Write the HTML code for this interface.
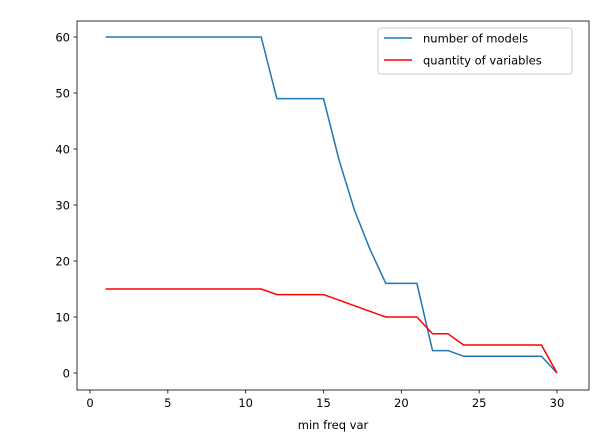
<!DOCTYPE html>
<html><head><meta charset="utf-8"><style>
body{margin:0;background:#fff;font-family:"DejaVu Sans","Liberation Sans",sans-serif}
</style></head><body>
<svg width="612" height="443" xmlns="http://www.w3.org/2000/svg" font-family="DejaVu Sans, Liberation Sans, sans-serif">
<g id="root"></g>
</svg>
<script>
const xs=[1,2,3,4,5,6,7,8,9,10,11,12,13,14,15,16,17,18,19,20,21,22,23,24,25,26,27,28,29,30];
const models=[60,60,60,60,60,60,60,60,60,60,60,49,49,49,49,38,29,22,16,16,16,4,4,3,3,3,3,3,3,0];
const variables=[15,15,15,15,15,15,15,15,15,15,15,14,14,14,14,13,12,11,10,10,10,7,7,5,5,5,5,5,5,0];
const xTicks=[0,5,10,15,20,25,30];
const yTicks=[0,10,20,30,40,50,60];
const L=77,R=589,T=21,B=390;
const X=v=>90+v*(557-90)/30;
const Y=v=>373-v*(373-37)/60;
const root=document.getElementById('root');
const NS='http://www.w3.org/2000/svg';
function mk(t,a){const e=document.createElementNS(NS,t);for(const k in a)e.setAttribute(k,a[k]);root.appendChild(e);return e;}
function path(arr){return arr.map((v,i)=>(i?'L':'M')+X(xs[i]).toFixed(1)+' '+Y(v).toFixed(1)).join(' ');}
let p=mk('path',{d:path(models),fill:'none',stroke:'#1f77b4','stroke-width':1.5,'stroke-linejoin':'round'});


p=mk('path',{d:path(variables),fill:'none',stroke:'#ff0000','stroke-width':1.5,'stroke-linejoin':'round'});


let f=mk('rect',{x:L,y:T,width:R-L,height:B-T,fill:'none',stroke:'#000','stroke-width':0.8});


xTicks.forEach(v=>{
 const l=mk('line',{x1:X(v),x2:X(v),y1:B,y2:B+3.5,stroke:'#000','stroke-width':0.8});
 
 
 const t=mk('text',{x:X(v),y:B+17,'text-anchor':'middle','font-size':'11.5px'});
 t.textContent=v;
 
 
});
yTicks.forEach(v=>{
 const l=mk('line',{x1:L-3.5,x2:L,y1:Y(v),y2:Y(v),stroke:'#000','stroke-width':0.8});
 
 
 const t=mk('text',{x:L-7,y:Y(v)+4.5,'text-anchor':'end','font-size':'11.5px'});
 t.textContent=v;
 
 
});
let xt=mk('text',{x:(L+R)/2,y:429,'text-anchor':'middle','font-size':'11.5px'});
xt.textContent='min freq var';


let lg=mk('rect',{x:378,y:28,width:194,height:46,rx:3,fill:'#fff',stroke:'#ccc','stroke-width':1});


[['number of models','#1f77b4',38],['quantity of variables','#ff0000',60]].forEach(([n,c,y])=>{
 const l=mk('line',{x1:384,x2:412,y1:y,y2:y,stroke:c,'stroke-width':1.5});
 
 
 const t=mk('text',{x:423,y:y+4.5,'font-size':'11.5px'});
 t.textContent=n;
 
 
});
</script>
</body></html>
